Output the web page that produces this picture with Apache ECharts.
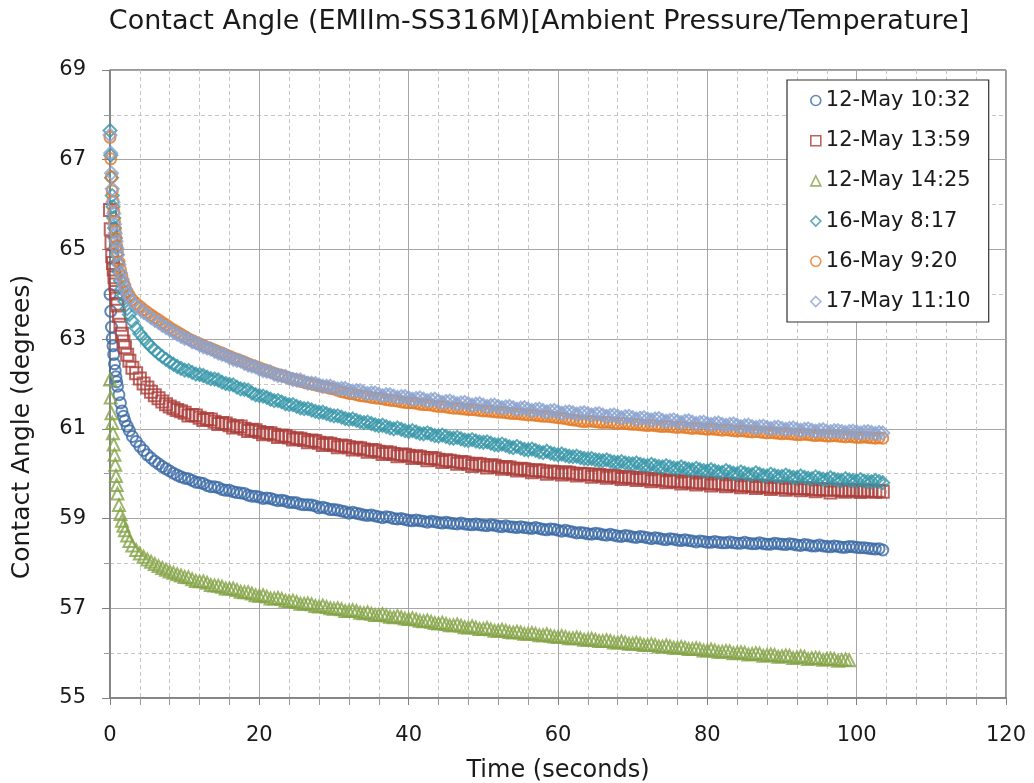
<!DOCTYPE html>
<html><head><meta charset="utf-8">
<script src="https://cdn.jsdelivr.net/npm/echarts@6/dist/echarts.min.js"></script>
<style>html,body{margin:0;padding:0;background:#fff}#c{width:1034px;height:783px}</style>
</head><body><div id="c"></div>
<script>
// Time (seconds) of the readings taken on whole seconds (plus the dense start)
const timeSec = [0,0.1,0.2,0.3,0.4,0.5,0.6,0.7,0.8,0.9,1.0,
1.2,1.4,1.6,1.8,2.0,
2.3,2.6,3.0,
3.5,4,4.5,5,5.5,6,6.5,7,7.5,8,8.5,9,9.5,10,
11,12,13,14,15,16,17,18,19,20,
21,22,23,24,25,26,27,28,29,30,
31,32,33,34,35,36,37,38,39,40,
41,42,43,44,45,46,47,48,49,50,
51,52,53,54,55,56,57,58,59,60,
61,62,63,64,65,66,67,68,69,70,
71,72,73,74,75,76,77,78,79,80,
81,82,83,84,85,86,87,88,89,90,
91,92,93,94,95,96,97,98,99,100,
101,102,103,103.5];

// Time (seconds) of the readings taken between whole seconds
const timeHalf = [10.5,11.5,12.5,13.5,14.5,15.5,16.5,17.5,18.5,19.5,
20.5,21.5,22.5,23.5,24.5,25.5,26.5,27.5,28.5,29.5,
30.5,31.5,32.5,33.5,34.5,35.5,36.5,37.5,38.5,39.5,
40.5,41.5,42.5,43.5,44.5,45.5,46.5,47.5,48.5,49.5,
50.5,51.5,52.5,53.5,54.5,55.5,56.5,57.5,58.5,59.5,
60.5,61.5,62.5,63.5,64.5,65.5,66.5,67.5,68.5,69.5,
70.5,71.5,72.5,73.5,74.5,75.5,76.5,77.5,78.5,79.5,
80.5,81.5,82.5,83.5,84.5,85.5,86.5,87.5,88.5,89.5,
90.5,91.5,92.5,93.5,94.5,95.5,96.5,97.5,98.5,99.5,
100.5,101.5,102.5];

const seriesNames = ['12-May 10:32','12-May 13:59','12-May 14:25','16-May 8:17','16-May 9:20','17-May 11:10'];

const may12_1032 = [64.00,63.62,63.27,63.02,62.85,62.66,62.45,62.30,62.16,62.05,61.95,
61.76,61.58,61.40,61.28,61.18,
61.06,60.96,60.83,
60.72,60.61,60.52,60.42,60.35,60.28,60.22,60.16,60.11,60.06,60.01,59.97,59.93,59.90,
59.85,59.80,59.74,59.71,59.65,59.63,59.58,59.56,59.50,59.48,
59.46,59.42,59.41,59.36,59.35,59.31,59.30,59.24,59.23,59.20,
59.17,59.12,59.12,59.08,59.08,59.04,59.04,59.00,59.00,58.96,
58.97,58.94,58.94,58.91,58.92,58.89,58.90,58.87,58.88,58.85,
58.86,58.83,58.84,58.81,58.82,58.79,58.80,58.76,58.77,58.74,
58.74,58.70,58.69,58.66,58.67,58.64,58.65,58.61,58.62,58.59,
58.60,58.57,58.57,58.54,58.55,58.52,58.53,58.50,58.50,58.47,
58.49,58.46,58.48,58.45,58.47,58.44,58.46,58.43,58.45,58.43,
58.44,58.41,58.42,58.39,58.41,58.38,58.39,58.36,58.38,58.36,
58.35,58.33,58.33,58.30];
const may12_1032_half = [59.89,59.81,59.78,59.71,59.69,59.63,59.60,59.57,59.52,59.50,
59.45,59.45,59.40,59.39,59.36,59.32,59.31,59.28,59.25,59.20,
59.19,59.15,59.14,59.10,59.07,59.06,59.02,59.03,58.99,58.98,
58.95,58.95,58.92,58.93,58.90,58.90,58.88,58.88,58.86,58.86,
58.84,58.85,58.82,58.82,58.80,58.80,58.78,58.78,58.75,58.76,
58.72,58.72,58.68,58.68,58.65,58.66,58.63,58.63,58.60,58.61,
58.58,58.59,58.55,58.56,58.53,58.54,58.51,58.51,58.48,58.49,
58.47,58.47,58.46,58.46,58.45,58.45,58.44,58.44,58.43,58.44,
58.42,58.43,58.40,58.41,58.39,58.39,58.37,58.38,58.36,58.37,
58.35,58.34,58.32];

const may12_1359 = [65.88,65.45,65.15,64.85,64.70,64.55,64.38,64.22,64.05,63.90,63.75,
63.52,63.32,63.12,62.95,62.82,
62.65,62.52,62.36,
62.24,62.12,62.01,61.92,61.83,61.75,61.68,61.61,61.55,61.50,61.46,61.42,61.39,61.36,
61.31,61.25,61.22,61.16,61.13,61.08,61.06,61.00,60.98,60.93,
60.91,60.87,60.85,60.81,60.79,60.75,60.74,60.69,60.68,60.64,
60.63,60.59,60.58,60.54,60.53,60.49,60.48,60.44,60.43,60.40,
60.39,60.35,60.35,60.31,60.30,60.27,60.26,60.22,60.22,60.19,
60.19,60.15,60.15,60.11,60.11,60.08,60.08,60.05,60.05,60.02,
60.03,60.00,60.00,59.98,59.98,59.95,59.96,59.92,59.93,59.90,
59.91,59.87,59.88,59.85,59.85,59.82,59.83,59.80,59.81,59.78,
59.79,59.76,59.77,59.74,59.75,59.72,59.73,59.70,59.71,59.69,
59.69,59.67,59.68,59.65,59.66,59.64,59.65,59.62,59.64,59.62,
59.63,59.61,59.62,59.60];
const may12_1359_half = [61.30,61.30,61.20,61.21,61.11,61.12,61.03,61.05,60.95,60.97,
60.88,60.90,60.82,60.84,60.76,60.78,60.70,60.73,60.64,60.67,
60.59,60.62,60.54,60.57,60.49,60.52,60.44,60.47,60.39,60.42,
60.35,60.38,60.30,60.34,60.26,60.29,60.22,60.25,60.17,60.21,
60.14,60.18,60.11,60.14,60.07,60.10,60.03,60.07,60.00,60.04,
59.98,60.02,59.96,59.99,59.93,59.97,59.91,59.95,59.88,59.92,
59.86,59.90,59.83,59.87,59.81,59.84,59.78,59.82,59.76,59.80,
59.74,59.78,59.72,59.76,59.70,59.74,59.68,59.72,59.66,59.70,
59.64,59.68,59.63,59.67,59.61,59.65,59.58,59.64,59.60,59.63,
59.59,59.62,59.60];

const may12_1425 = [62.10,61.70,61.35,61.13,60.90,60.65,60.42,60.20,59.95,59.75,59.56,
59.30,59.10,58.95,58.84,58.74,
58.62,58.50,58.40,
58.30,58.22,58.15,58.09,58.04,57.99,57.94,57.90,57.86,57.82,57.79,57.76,57.73,57.70,
57.65,57.60,57.57,57.51,57.48,57.44,57.41,57.36,57.33,57.28,
57.26,57.22,57.21,57.16,57.14,57.10,57.09,57.04,57.03,56.99,
56.98,56.94,56.94,56.89,56.88,56.85,56.84,56.80,56.80,56.76,
56.75,56.71,56.70,56.66,56.65,56.62,56.61,56.57,56.57,56.54,
56.53,56.50,56.50,56.46,56.46,56.43,56.43,56.40,56.39,56.36,
56.36,56.33,56.33,56.30,56.30,56.27,56.27,56.24,56.24,56.21,
56.21,56.18,56.18,56.15,56.15,56.12,56.12,56.09,56.09,56.06,
56.06,56.03,56.04,56.01,56.01,55.98,55.99,55.96,55.96,55.93,
55.94,55.91,55.92,55.89,55.89,55.87,55.87,55.85,55.84];
const may12_1425_half = [57.69,57.61,57.60,57.52,57.50,57.44,57.44,57.37,57.36,57.29,
57.29,57.22,57.23,57.17,57.17,57.10,57.11,57.05,57.06,57.00,
57.00,56.94,56.96,56.90,56.91,56.85,56.87,56.81,56.83,56.77,
56.78,56.72,56.73,56.67,56.68,56.62,56.64,56.58,56.60,56.54,
56.56,56.50,56.52,56.47,56.48,56.43,56.45,56.40,56.42,56.37,
56.38,56.33,56.35,56.30,56.32,56.27,56.29,56.24,56.26,56.21,
56.23,56.18,56.20,56.15,56.17,56.12,56.14,56.09,56.11,56.06,
56.08,56.03,56.05,56.00,56.02,55.97,56.00,55.94,55.97,
55.92,55.95,55.89,55.93,55.87,55.90,55.85,55.88,55.83,55.86];

const may16_0817 = [67.65,67.10,66.60,66.20,65.95,65.70,65.48,65.25,65.05,64.88,64.72,
64.50,64.30,64.12,63.97,63.84,
63.68,63.55,63.40,
63.25,63.12,63.02,62.92,62.83,62.75,62.68,62.61,62.55,62.49,62.44,62.39,62.35,62.31,
62.26,62.21,62.15,62.11,62.04,61.99,61.93,61.88,61.80,61.74,
61.70,61.63,61.60,61.54,61.50,61.45,61.42,61.37,61.34,61.29,
61.26,61.21,61.19,61.14,61.12,61.07,61.05,61.00,60.99,60.94,
60.93,60.89,60.88,60.84,60.83,60.79,60.78,60.74,60.73,60.70,
60.68,60.64,60.63,60.58,60.57,60.53,60.52,60.47,60.46,60.42,
60.41,60.38,60.36,60.33,60.31,60.29,60.28,60.25,60.24,60.22,
60.21,60.18,60.18,60.15,60.15,60.12,60.12,60.09,60.09,60.06,
60.06,60.03,60.04,60.00,60.01,59.98,59.99,59.95,59.96,59.94,
59.94,59.91,59.92,59.89,59.90,59.87,59.88,59.85,59.86,59.84,
59.84,59.82,59.83,59.80];
const may16_0817_half = [62.30,62.22,62.19,62.12,62.09,62.01,61.98,61.89,61.86,61.76,
61.73,61.66,61.63,61.56,61.54,61.47,61.45,61.39,61.37,61.31,
61.29,61.23,61.22,61.16,61.15,61.09,61.08,61.02,61.02,60.96,
60.96,60.90,60.91,60.85,60.86,60.80,60.81,60.75,60.76,60.71,
60.71,60.65,60.66,60.60,60.61,60.54,60.55,60.49,60.50,60.44,
60.44,60.39,60.39,60.34,60.34,60.30,60.31,60.26,60.27,60.23,
60.24,60.19,60.21,60.16,60.18,60.13,60.15,60.10,60.12,60.07,
60.09,60.04,60.07,60.01,60.04,59.99,60.02,59.96,59.99,59.94,
59.97,59.92,59.95,59.90,59.93,59.88,59.91,59.86,59.89,59.85,
59.87,59.83,59.85];

const may16_0920 = [67.50,67.02,66.62,66.30,66.08,65.85,65.62,65.42,65.25,65.08,64.94,
64.72,64.55,64.40,64.28,64.18,
64.06,63.97,63.88,
63.80,63.73,63.66,63.60,63.54,63.48,63.43,63.37,63.32,63.26,63.21,63.16,63.11,63.06,
62.97,62.90,62.82,62.76,62.69,62.62,62.55,62.49,62.42,62.36,
62.30,62.24,62.19,62.13,62.09,62.04,62.00,61.96,61.93,61.89,
61.83,61.79,61.76,61.73,61.70,61.68,61.65,61.63,61.60,61.58,
61.57,61.54,61.53,61.50,61.49,61.46,61.45,61.43,61.42,61.40,
61.39,61.37,61.36,61.34,61.33,61.31,61.30,61.28,61.27,61.25,
61.23,61.20,61.17,61.17,61.16,61.14,61.14,61.12,61.12,61.10,
61.09,61.07,61.07,61.05,61.05,61.03,61.03,61.01,61.01,60.99,
60.99,60.97,60.97,60.95,60.95,60.93,60.93,60.91,60.91,60.89,
60.89,60.87,60.88,60.86,60.86,60.84,60.85,60.83,60.83,60.81,
60.82,60.80,60.80,60.79];
const may16_0920_half = [63.01,62.93,62.86,62.79,62.72,62.65,62.58,62.52,62.45,62.39,
62.33,62.27,62.21,62.16,62.11,62.06,62.02,61.98,61.94,61.90,
61.86,61.81,61.78,61.74,61.72,61.69,61.67,61.64,61.62,61.59,
61.58,61.55,61.54,61.51,61.50,61.47,61.46,61.44,61.43,61.41,
61.40,61.38,61.37,61.35,61.34,61.32,61.31,61.29,61.28,61.26,
61.24,61.21,61.19,61.16,61.17,61.15,61.15,61.13,61.13,61.11,
61.10,61.08,61.08,61.06,61.06,61.04,61.04,61.02,61.02,61.00,
61.00,60.98,60.98,60.96,60.96,60.94,60.94,60.92,60.92,60.90,
60.90,60.88,60.87,60.87,60.85,60.85,60.84,60.84,60.82,60.82,
60.81,60.81,60.79];

const may17_1110 = [67.55,67.15,66.70,66.35,66.05,65.80,65.56,65.36,65.18,65.02,64.88,
64.66,64.48,64.34,64.22,64.12,
64.00,63.91,63.82,
63.74,63.67,63.60,63.54,63.48,63.42,63.37,63.31,63.26,63.21,63.16,63.11,63.06,63.02,
62.94,62.87,62.80,62.73,62.66,62.59,62.53,62.46,62.40,62.33,
62.28,62.22,62.18,62.13,62.09,62.05,62.02,61.98,61.95,61.92,
61.90,61.86,61.85,61.81,61.80,61.77,61.76,61.73,61.72,61.69,
61.68,61.66,61.65,61.62,61.61,61.59,61.58,61.56,61.55,61.53,
61.52,61.50,61.49,61.47,61.46,61.44,61.43,61.41,61.40,61.38,
61.37,61.36,61.35,61.34,61.33,61.31,61.30,61.28,61.27,61.25,
61.24,61.22,61.22,61.19,61.19,61.17,61.17,61.15,61.14,61.12,
61.12,61.10,61.10,61.08,61.07,61.05,61.05,61.03,61.03,61.01,
61.01,60.99,60.99,60.97,60.97,60.95,60.96,60.94,60.94,60.93,
60.93,60.92,60.92,60.91];
const may17_1110_half = [63.00,62.92,62.83,62.78,62.69,62.64,62.55,62.51,62.42,62.38,
62.30,62.27,62.19,62.17,62.10,62.09,62.02,62.01,61.95,61.95,
61.89,61.90,61.84,61.85,61.79,61.80,61.74,61.76,61.70,61.72,
61.66,61.69,61.63,61.66,61.59,61.62,61.56,61.59,61.53,61.56,
61.50,61.53,61.47,61.50,61.44,61.47,61.41,61.44,61.38,61.41,
61.35,61.38,61.33,61.36,61.31,61.34,61.28,61.31,61.25,61.28,
61.22,61.25,61.20,61.23,61.17,61.20,61.14,61.18,61.12,61.15,
61.10,61.13,61.08,61.11,61.05,61.08,61.03,61.06,61.01,61.04,
60.99,61.02,60.97,61.00,60.95,60.98,60.94,60.96,60.92,60.95,
60.91,60.94,60.90];

const wholeValues = [may12_1032, may12_1359, may12_1425, may16_0817, may16_0920, may17_1110];
const halfValues = [may12_1032_half, may12_1359_half, may12_1425_half, may16_0817_half, may16_0920_half, may17_1110_half];
const colors = ['#3a69a5','#ab3d39','#84a446','#3696a9','#e47b25','#8aa2d0'];
const symbols = ['circle','rect','triangle','diamond','circle','diamond'];
const symbolSizes = [11,12,12,13,11,13];

const FONT = '"DejaVu Sans", Verdana, sans-serif';
const TXT = '#1a1a1a';

const chart = echarts.init(document.getElementById('c'), null, {renderer:'canvas'});
const series = wholeValues.map((vals, k) => {
  const pts = vals.map((v, i) => [timeSec[i], v])
    .concat(halfValues[k].map((v, i) => [timeHalf[i], v]))
    .sort((a, b) => a[0] - b[0]);
  return {
    name: seriesNames[k],
    type: 'scatter',
    symbol: symbols[k],
    symbolSize: symbolSizes[k],
    data: pts,
    itemStyle: {color: 'rgba(255,255,255,0)', borderColor: colors[k], borderWidth: 2},
    emphasis: {disabled: true},
    animation: false,
    z: 2 + k
  };
});

chart.setOption({
  animation: false,
  color: colors,
  grid: {left: 110, top: 70, width: 896, height: 628, show: true, borderColor: '#303030', borderWidth: 1, backgroundColor: '#fff', outerBoundsMode: 'none'},
  graphic: [
    {type: 'text', x: 539, y: 22, style: {text: 'Contact Angle (EMIIm-SS316M)[Ambient Pressure/Temperature]', font: '27px ' + FONT, fill: TXT, align: 'center', verticalAlign: 'middle'}},
    {type: 'text', x: 22, y: 427, rotation: Math.PI/2, style: {text: 'Contact Angle (degrees)', font: '25px ' + FONT, fill: TXT, align: 'center', verticalAlign: 'middle'}}
  ],
  xAxis: {
    type: 'value', min: 0, max: 120, interval: 20,
    name: 'Time (seconds)', nameLocation: 'middle', nameGap: 61,
    nameTextStyle: {fontSize: 24, fontFamily: FONT, color: TXT},
    axisLine: {show: true, onZero: false, lineStyle: {color: '#7f7f7f', width: 1.5}},
    axisTick: {show: true, length: 7, lineStyle: {color: '#7f7f7f'}},
    minorTick: {show: true, splitNumber: 5, length: 7, lineStyle: {color: '#9a9a9a'}},
    splitLine: {show: true, lineStyle: {color: '#a6a6a6', width: 1}},
    minorSplitLine: {show: true, lineStyle: {color: '#c6c6c6', type: [4,3], width: 1}},
    axisLabel: {fontSize: 21, fontFamily: FONT, color: TXT, margin: 27}
  },
  yAxis: {
    type: 'value', min: 55, max: 69, interval: 2,
    axisLine: {show: true, onZero: false, lineStyle: {color: '#7f7f7f', width: 1.5}},
    axisTick: {show: true, length: 8, lineStyle: {color: '#7f7f7f'}},
    minorTick: {show: true, splitNumber: 2, length: 6, lineStyle: {color: '#9a9a9a'}},
    splitLine: {show: true, lineStyle: {color: '#a6a6a6', width: 1}},
    minorSplitLine: {show: true, lineStyle: {color: '#c6c6c6', type: [4,3], width: 1}},
    axisLabel: {fontSize: 21, fontFamily: FONT, color: TXT, margin: 24}
  },
  legend: {
    orient: 'vertical', left: 787, top: 80,
    padding: [10, 18, 10, 23], itemGap: 19.2, itemWidth: 10, itemHeight: 10,
    backgroundColor: '#fff', borderColor: '#303030', borderWidth: 1.2,
    textStyle: {fontSize: 21, fontFamily: FONT, color: TXT, lineHeight: 20},
    data: seriesNames.map((n) => ({name: n, itemStyle: {borderWidth: 1.6}}))
  },
  series: series
});
</script></body></html>
